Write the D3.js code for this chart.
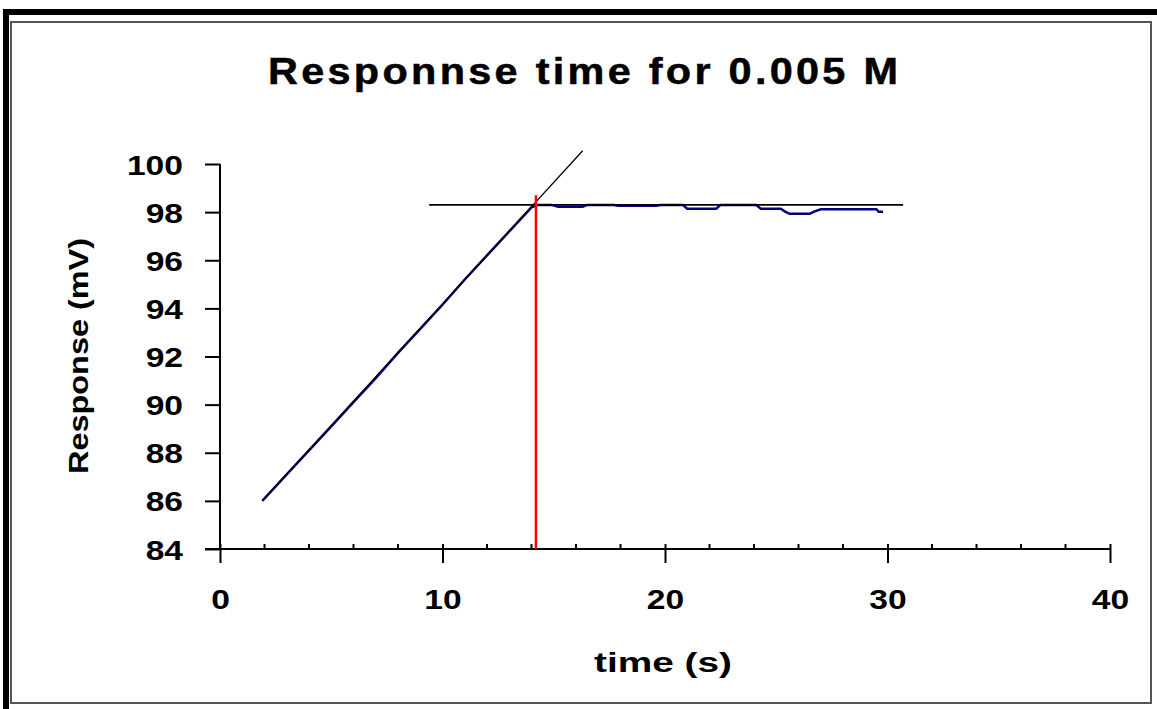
<!DOCTYPE html>
<html>
<head>
<meta charset="utf-8">
<script src="https://cdn.jsdelivr.net/npm/d3@7"></script>
<style>
  html, body { margin: 0; padding: 0; background: #ffffff; }
  svg { display: block; }
  text { font-family: "Liberation Sans", Arial, sans-serif; font-weight: bold; fill: #000; }
</style>
</head>
<body>
<svg id="chart" width="1157" height="709"></svg>
<script>
// ---- data ----
const titleText = "Responnse time for 0.005 M";
const xTitle = "time (s)";
const yTitle = "Response (mV)";
const xTicks = [0, 10, 20, 30, 40];
const xMinorTicks = [2, 4, 6, 8, 12, 14, 16, 18, 22, 24, 26, 28, 32, 34, 36, 38];
const yTicks = [84, 86, 88, 90, 92, 94, 96, 98, 100];

const time = [1.9, 3, 4, 5, 6, 7, 8, 9, 10, 11, 12, 13, 14, 14.3,
  14.9, 15.2, 16.3, 16.5, 17.7, 17.9, 19.6, 19.8, 20.8, 21.0, 22.3, 22.5, 24.1,
  24.3, 25.2, 25.4, 25.6, 26.5, 26.7, 27.0, 29.5, 29.6, 29.8];
const response = [86.0, 87.1, 88.1, 89.1, 90.1, 91.1, 92.15, 93.15, 94.15, 95.2, 96.2, 97.2, 98.2, 98.3,
  98.3, 98.22, 98.22, 98.3, 98.3, 98.26, 98.26, 98.3, 98.3, 98.14, 98.14, 98.3, 98.3,
  98.14, 98.14, 98.02, 97.93, 97.93, 98.02, 98.12, 98.12, 98.02, 98.02];

const tangentX = [1.9, 16.3];
const tangentY = [86.0, 100.55];
const plateauX = [9.4, 30.7];
const plateauY = [98.3, 98.3];
const markerX = [14.2, 14.2];
const markerY = [84, 98.7];

// ---- layout ----
const svg = d3.select("#chart");
const x = d3.scaleLinear().domain([0, 40]).range([220, 1110]);
const y = d3.scaleLinear().domain([84, 100]).range([549, 164]);

// frames
svg.append("rect").attr("x", 3).attr("y", 9).attr("width", 1154).attr("height", 6).attr("fill", "#000");
svg.append("rect").attr("x", 3).attr("y", 9).attr("width", 6).attr("height", 700).attr("fill", "#000");
svg.append("rect").attr("x", 11).attr("y", 22).attr("width", 1140).attr("height", 681)
  .attr("fill", "none").attr("stroke", "#555").attr("stroke-width", 2);

function stretch(sel, target, mode) {
  sel.each(function() {
    this.setAttribute("textLength", target);
    this.setAttribute("lengthAdjust", mode || "spacingAndGlyphs");
  });
}
function stretchBy(sel, factor) {
  sel.each(function() {
    const w = this.getComputedTextLength();
    this.setAttribute("textLength", w * factor);
    this.setAttribute("lengthAdjust", "spacingAndGlyphs");
  });
}

// title (glyphs widened slightly, remaining width as letter spacing)
const titleScale = 1.12;
const t = svg.append("g").attr("transform", `translate(583,84) scale(${titleScale},1)`)
  .append("text").attr("x", 0).attr("y", 0).attr("text-anchor", "middle")
  .attr("font-size", 37).attr("font-weight", "normal")
  .attr("stroke", "#000").attr("stroke-width", 0.5).text(titleText);
stretch(t, 630 / titleScale, "spacing");

// axes
const line = d3.line().x(d => x(d[0])).y(d => y(d[1]));

const yAxis = d3.axisLeft(y).tickValues(yTicks).tickSize(15).tickPadding(22).tickFormat(d3.format("d"));
const gy = svg.append("g").attr("transform", `translate(${x(0)},0)`).call(yAxis);
gy.select(".domain").attr("stroke", "#000").attr("stroke-width", 2).attr("d", `M0,${y(100)}V${y(84)}`);
gy.selectAll(".tick line").attr("stroke", "#000").attr("stroke-width", 2);
gy.selectAll(".tick text").attr("font-size", 28).attr("font-family", "Liberation Sans, Arial, sans-serif")
  .attr("font-weight", "bold").attr("fill", "#000").attr("dy", "0.36em");
stretchBy(gy.selectAll(".tick text"), 1.2);

const xAxis = d3.axisBottom(x).tickValues(xTicks).tickSize(14).tickPadding(24).tickFormat(d3.format("d"));
const gx = svg.append("g").attr("transform", `translate(0,${y(84)})`).call(xAxis);
gx.select(".domain").attr("stroke", "#000").attr("stroke-width", 2).attr("d", `M${x(0) - 15},0H${x(40)}`);
gx.selectAll(".tick line").attr("stroke", "#000").attr("stroke-width", 2).attr("y1", -5);
gx.selectAll(".tick text").attr("font-size", 28).attr("font-family", "Liberation Sans, Arial, sans-serif")
  .attr("font-weight", "bold").attr("fill", "#000").attr("dy", "0.8em");
stretchBy(gx.selectAll(".tick text"), 1.2);

// minor ticks on x (inside)
svg.append("g").selectAll("line").data(xMinorTicks).join("line")
  .attr("x1", d => x(d)).attr("x2", d => x(d))
  .attr("y1", y(84)).attr("y2", y(84) - 5)
  .attr("stroke", "#000").attr("stroke-width", 2);

// axis titles
const xt = svg.append("text").attr("x", 663).attr("y", 672).attr("text-anchor", "middle")
  .attr("font-size", 28).text(xTitle);
stretch(xt, 138);
const yt = svg.append("text").attr("transform", `translate(88,356) rotate(-90)`).attr("text-anchor", "middle")
  .attr("font-size", 28).text(yTitle);
stretch(yt, 236);

// data series
svg.append("path").datum(time.map((d, i) => [d, response[i]]))
  .attr("d", line).attr("fill", "none").attr("stroke", "#000080").attr("stroke-width", 2.5);

// tangent line
svg.append("path").datum(tangentX.map((d, i) => [d, tangentY[i]]))
  .attr("d", line).attr("fill", "none").attr("stroke", "#000").attr("stroke-width", 1.3);

// plateau line
svg.append("path").datum(plateauX.map((d, i) => [d, plateauY[i]]))
  .attr("d", line).attr("fill", "none").attr("stroke", "#000").attr("stroke-width", 1.8);

// marker line
svg.append("path").datum(markerX.map((d, i) => [d, markerY[i]]))
  .attr("d", line).attr("fill", "none").attr("stroke", "#ff0000").attr("stroke-width", 2.5);
</script>
</body>
</html>
